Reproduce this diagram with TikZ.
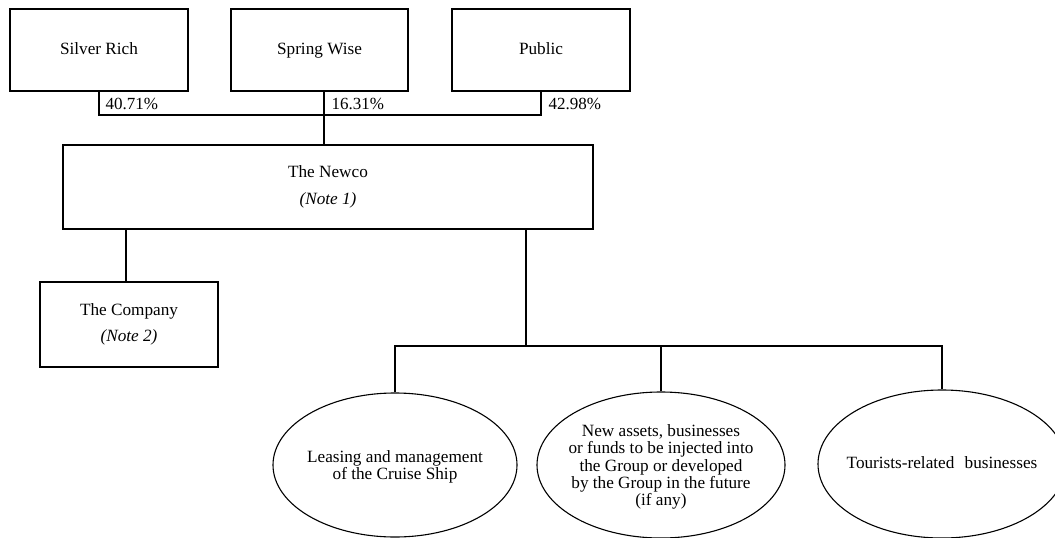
\documentclass[tikz,border=0pt]{standalone}
\usepackage{fontspec}
\setmainfont{Liberation Serif}
\usetikzlibrary{shapes.geometric}
\newcommand{\ovaltxt}[2][7pt]{\smash{\makebox[0pt]{\raisebox{-#1}{\begin{tabular}{@{}c@{}}#2\end{tabular}}}}}
\begin{document}
\begin{tikzpicture}[x=1pt,y=-1pt,
  line width=1.1pt,
  boxnode/.style={draw, rectangle, inner sep=0pt, align=center,
    font=\fontsize{17.2}{26.5}\selectfont},
  onebox/.style={boxnode, text height=12pt, text depth=4pt},
  ovalnode/.style={draw, ellipse, inner sep=0pt,
    minimum width=246pt, minimum height=146pt,
    font=\fontsize{17.2}{17.2}\selectfont},
  pct/.style={anchor=west, inner sep=0pt, font=\fontsize{17}{17}\selectfont},
  link/.style={draw, line width=1.1pt}]
\clip (0,0) rectangle (1055,538);
% top shareholders
\node[onebox, minimum width=178pt, minimum height=82pt] (silver) at (99,50) {Silver Rich};
\node[onebox, minimum width=177pt, minimum height=82pt] (spring) at (319.5,50) {Spring Wise};
\node[onebox, minimum width=178pt, minimum height=82pt] (public) at (541,50) {Public};
% Newco
\node[boxnode, minimum width=530pt, minimum height=84pt] (newco) at (328,187)
  {The Newco\\\textit{(Note 1)}};
% Company
\node[boxnode, minimum width=178pt, minimum height=85pt] (company) at (129,324.5)
  {The Company\\\textit{(Note 2)}};
% ellipses
\node[ovalnode, minimum width=244pt, minimum height=144pt] (e1) at (395,465)
  {\ovaltxt{Leasing and management\\of the Cruise Ship}};
\node[ovalnode, minimum width=248pt] (e2) at (661,465)
  {\ovaltxt{New assets, businesses\\or funds to be injected into\\the Group or developed\\by the Group in the future\\(if any)}};
\node[ovalnode, minimum width=248pt, minimum height=148pt] (e3) at (942,464)
  {\ovaltxt[5pt]{Tourists-related\hspace{0.6em}businesses}};
% percentages
\node[pct] (p1) at (105,104) {40.71\%};
\node[pct] (p2) at (331,104) {16.31\%};
\node[pct] (p3) at (548,104) {42.98\%};
% connectors
\coordinate (bar) at (0,115);
\coordinate (hub) at (526,346);
\coordinate (sw) at (324,91);
\coordinate (co) at (126,282);
\path[link] (silver.south) -- (silver.south |- bar) -- (public.south |- bar) -- (public.south);
\path[link] (sw) -- (sw |- newco.north);
\path[link] (newco.south -| co) -- (co);
\path[link] (newco.south -| hub) -- (hub);
\path[link] (e1.north) -- (e1.north |- hub) -- (e3.north |- hub) -- (e3.north);
\path[link] (e2.north) -- (e2.north |- hub);
\end{tikzpicture}
\end{document}
